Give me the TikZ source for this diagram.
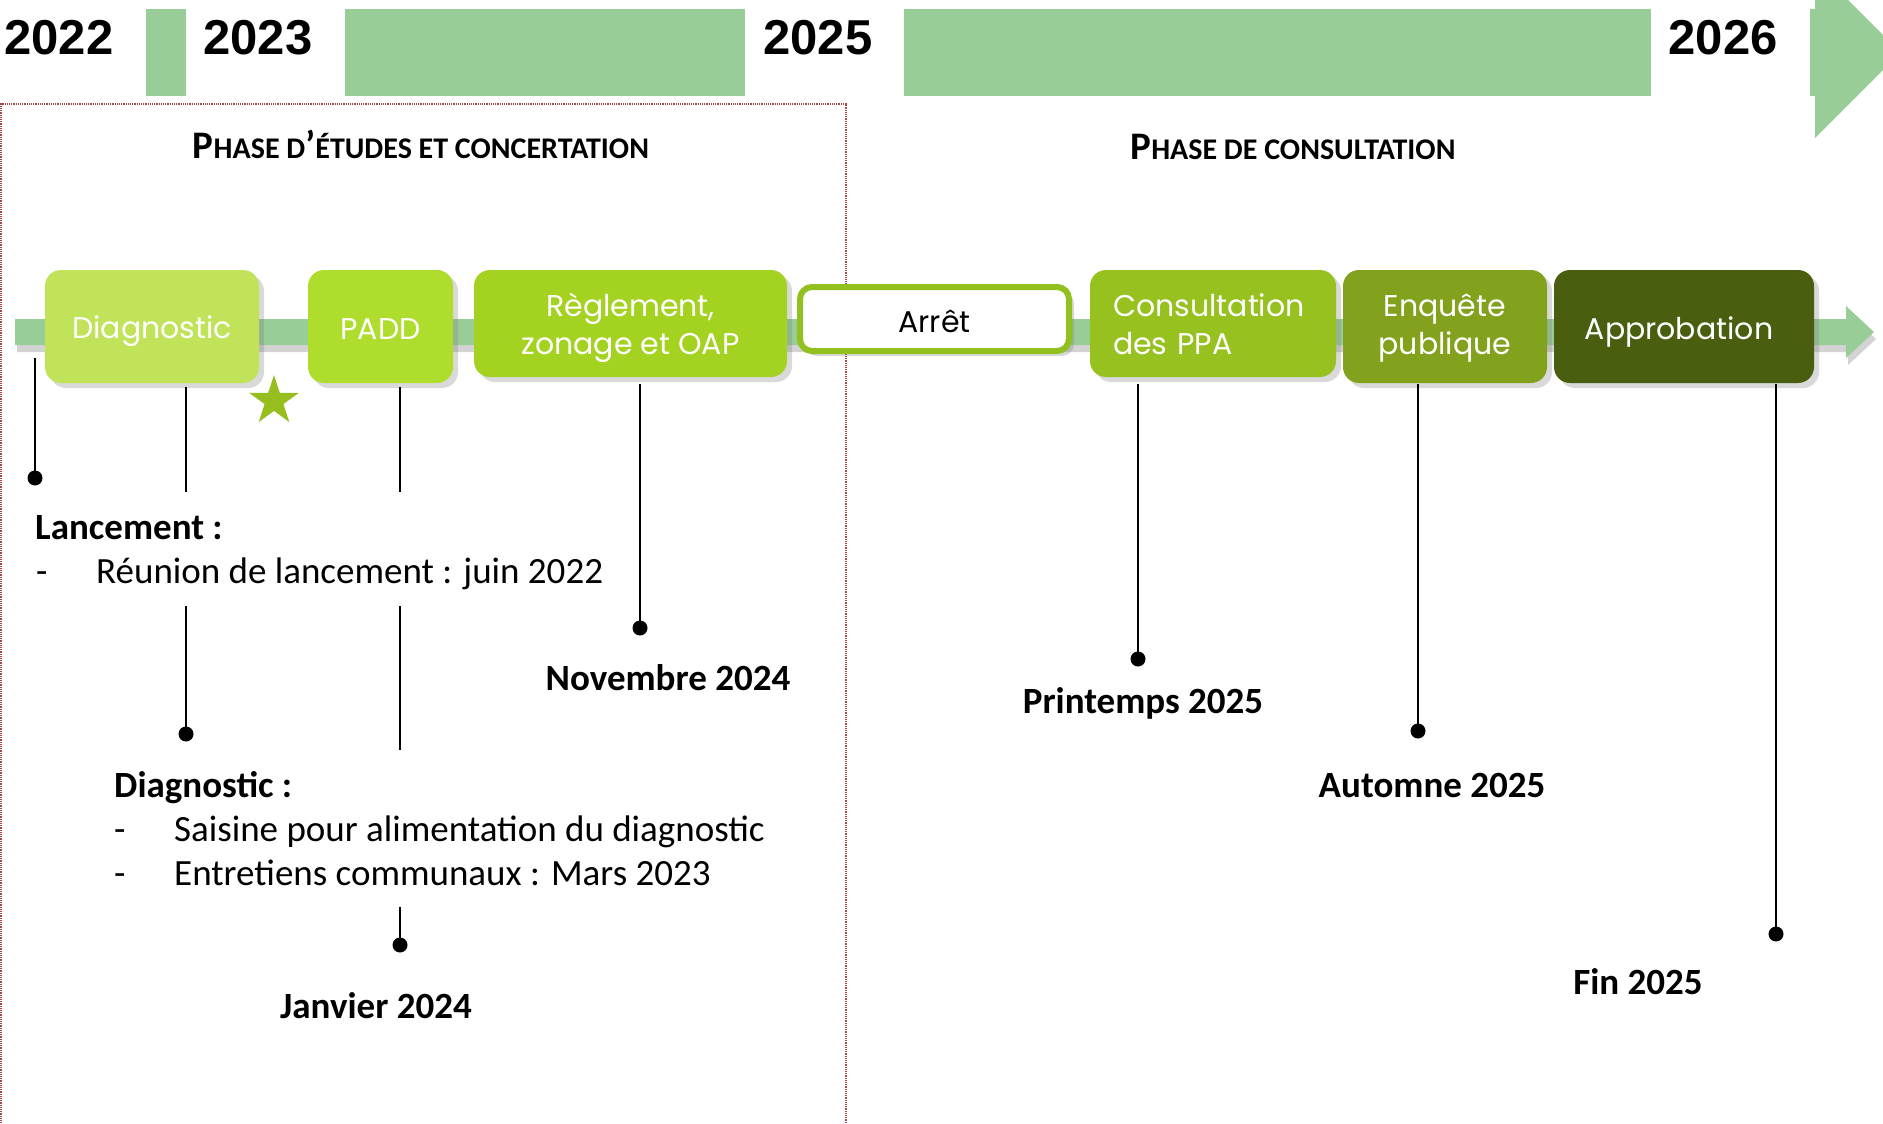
\documentclass[tikz,border=0pt]{standalone}
\usepackage{fontspec}
\setmainfont{Carlito}
\newfontfamily\yearfont{Liberation Sans}
\newfontfamily\boxfont{Poppins}
\usepackage{xcolor}
\usetikzlibrary{shapes.geometric, shadows, positioning}

\definecolor{bargreen}{RGB}{153,205,151}
\definecolor{diaggreen}{RGB}{192,227,90}
\definecolor{paddgreen}{RGB}{174,221,46}
\definecolor{reglgreen}{RGB}{164,210,32}
\definecolor{arretgreen}{RGB}{146,192,31}
\definecolor{ppagreen}{RGB}{151,193,31}
\definecolor{enqgreen}{RGB}{130,162,30}
\definecolor{approgreen}{RGB}{74,94,16}
\definecolor{stargreen}{RGB}{150,190,30}
\definecolor{framered}{RGB}{170,70,70}

\newcommand\bigc[1]{{\fontsize{39}{44}\selectfont #1}}

\tikzset{
  stage/.style={rounded corners=16pt, inner sep=0pt,
    drop shadow={shadow xshift=5pt, shadow yshift=-5pt, opacity=.3}},
  stagetxt/.style={yshift=-5pt, inner sep=0pt, text=white, align=center,
    font=\boxfont\fontsize{30}{38}\selectfont},
  stem/.style={line width=2.5pt},
  dot/.style={circle, fill=black, inner sep=0pt, minimum size=15pt},
  yearlbl/.style={anchor=base, font=\yearfont\bfseries\fontsize{49}{58}\selectfont},
  datelbl/.style={anchor=base, font=\bfseries\fontsize{37}{44}\selectfont},
  phaselbl/.style={anchor=base, font=\bfseries\fontsize{30}{36}\selectfont},
  note/.style={anchor=base west, inner sep=0pt, font=\fontsize{37}{44}\selectfont},
}

\begin{document}
\begin{tikzpicture}[x=1pt, y=-1pt]
    \useasboundingbox (0,0) rectangle (1883,1124);

    % Bandeau des années
    \fill[bargreen] (146,9) rectangle (186,96);
    \fill[bargreen] (345,9) rectangle (745,96);
    \fill[bargreen] (904,9) rectangle (1651,96);
    \fill[bargreen] (1810,9) -- (1815,9) -- (1815,-33) -- (1900.5,52.5)
        -- (1815,138) -- (1815,96) -- (1810,96) -- cycle;
    \node[yearlbl] (y22) at (59,55) {2022};
    \node[yearlbl] (y23) at (258,55) {2023};
    \node[yearlbl] (y25) at (818,55) {2025};
    \node[yearlbl] (y26) at (1723,55) {2026};

    % Cadre de la première phase
    \draw[framered, densely dotted, line width=1.2pt]
        (1,1130) -- (1,104) -- (846,104) -- (846,1130);
    \node[phaselbl] (ph1) at (421,158)
        {\bigc{P}HASE D\bigc{’}ÉTUDES ET CONCERTATION};
    \node[phaselbl] (ph2) at (1293,159) {\bigc{P}HASE DE CONSULTATION};

    % Frise
    \fill[bargreen, drop shadow={shadow xshift=2pt, shadow yshift=-7pt, opacity=.35}]
        (15,319) -- (1846,319) -- (1846,306) -- (1874,332) -- (1846,358)
        -- (1846,345) -- (15,345) -- cycle;

    % Étapes
    \node[stage, fill=diaggreen, minimum width=214pt, minimum height=113pt,
        label={[stagetxt]center:Diagnostic}] (diag) at (152,326.5) {};
    \node[stage, fill=paddgreen, minimum width=145pt, minimum height=113pt,
        label={[stagetxt, yshift=2pt]center:PADD}] (padd) at (380.5,326.5) {};
    \node[stage, fill=reglgreen, minimum width=313pt, minimum height=107pt,
        label={[stagetxt, yshift=1pt]center:Règlement,\\zonage et OAP}] (regl) at (630.5,323.5) {};
    \node[stage, fill=white, draw=arretgreen, line width=6pt, rounded corners=12pt,
        minimum width=269pt, minimum height=64pt,
        label={[stagetxt, text=black, yshift=3pt]center:Arrêt}] (arret) at (934.5,319) {};
    \node[stage, fill=ppagreen, minimum width=246pt, minimum height=107pt,
        label={[stagetxt, yshift=4pt, align=left, text width=200pt]center:Consultation\\des PPA}]
        (ppa) at (1213,323.5) {};
    \node[stage, fill=enqgreen, minimum width=204pt, minimum height=113pt,
        label={[stagetxt, yshift=3pt]center:Enquête\\publique}] (enq) at (1445,326.5) {};
    \node[stage, fill=approgreen, minimum width=260pt, minimum height=113pt,
        label={[stagetxt, xshift=-5pt]center:Approbation}] (appro) at (1684,326.5) {};

    \node[star, star points=5, star point ratio=2.618, fill=stargreen,
        inner sep=0pt, minimum size=52pt] (mark) at (274,401) {};

    % Tiges et points
    \node[dot] (tLanc) at (35,478) {};
    \node[dot] (tDiag) at (186,734) {};
    \node[dot] (tPadd) at (400,945) {};
    \node[dot] (tRegl) at (640,628) {};
    \node[dot] (tPpa) at (1138,659) {};
    \node[dot] (tEnq) at (1418,731) {};
    \node[dot] (tAppro) at (1776,934) {};

    \coordinate (hLanc) at (35,358);
    \coordinate (hDiag) at (186,387);
    \coordinate (mDiag) at (186,492);
    \coordinate (nDiag) at (186,606);
    \coordinate (hPadd) at (400,387);
    \coordinate (mPadd) at (400,492);
    \coordinate (nPadd) at (400,606);
    \coordinate (oPadd) at (400,750);
    \coordinate (pPadd) at (400,907);
    \coordinate (hRegl) at (640,384);
    \coordinate (hPpa) at (1138,384);
    \coordinate (hEnq) at (1418,384);
    \coordinate (hAppro) at (1776,384);

    \draw[stem] (hLanc) -- (tLanc.center);
    \draw[stem] (hDiag) -- (mDiag);
    \draw[stem] (nDiag) -- (tDiag.center);
    \draw[stem] (hPadd) -- (mPadd);
    \draw[stem] (nPadd) -- (oPadd);
    \draw[stem] (pPadd) -- (tPadd.center);
    \draw[stem] (hRegl) -- (tRegl.center);
    \draw[stem] (hPpa) -- (tPpa.center);
    \draw[stem] (hEnq) -- (tEnq.center);
    \draw[stem] (hAppro) -- (tAppro.center);

    % Textes
    \node[note, font=\bfseries\fontsize{37}{44}\selectfont] (lanc) at (35,539) {Lancement :};
    \node[note] (lancd) at (36,583) {-};
    \node[note] (lanc1) at (96,583) {Réunion de lancement : juin 2022};

    \node[note, font=\bfseries\fontsize{37}{44}\selectfont] (diagt) at (114,797) {Diagnostic :};
    \node[note] (diagd1) at (114,841) {-};
    \node[note] (diag1) at (174,841) {Saisine pour alimentation du diagnostic};
    \node[note] (diagd2) at (114,885) {-};
    \node[note] (diag2) at (174,885) {Entretiens communaux : Mars 2023};

    \node[datelbl] (dRegl) at (668,690) {Novembre 2024};
    \node[datelbl] (dPadd) at (376,1018) {Janvier 2024};
    \node[datelbl] (dPpa) at (1143,713) {Printemps 2025};
    \node[datelbl] (dEnq) at (1432,797) {Automne 2025};
    \node[datelbl] (dAppro) at (1638,994) {Fin 2025};
\end{tikzpicture}
\end{document}
